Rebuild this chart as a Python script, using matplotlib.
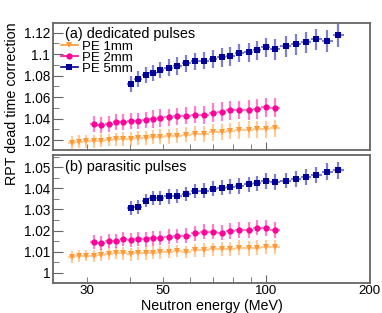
import numpy as np
import matplotlib
matplotlib.use('Agg')
import matplotlib.pyplot as plt
from matplotlib.lines import Line2D
from matplotlib.ticker import MultipleLocator, FuncFormatter

plt.rcParams['font.family'] = ['Liberation Sans', 'DejaVu Sans']

# bin centres (MeV)
energy_1mm = [27.0, 28.4, 29.8, 31.3, 32.9, 34.7, 36.4, 38.2, 40.2, 42.2, 44.4, 46.6, 49.0,
              51.8, 55.0, 58.3, 62.0, 65.9, 69.8, 74.2, 78.6, 83.4, 88.8, 93.9, 99.6, 106.0]
energy_2mm = [31.3, 32.9, 34.7, 36.4, 38.2, 40.2, 42.2, 44.4, 46.6, 49.0, 51.8, 55.0,
              58.3, 62.0, 65.9, 69.8, 74.2, 78.6, 83.4, 88.8, 93.9, 99.6, 106.0]
energy_5mm = [40.2, 42.2, 44.4, 46.6, 49.0, 51.8, 55.0, 58.3, 62.0, 65.9, 69.8, 74.2,
              78.6, 83.4, 88.8, 93.9, 99.6, 106.0, 114.2, 122.1, 130.9, 140.0, 150.3, 162.4]

# (a) dedicated pulses
ded_1mm = [1.0175, 1.0185, 1.019, 1.019, 1.0195, 1.020, 1.0205, 1.021, 1.0205, 1.0215, 1.022, 1.0225,
           1.023, 1.0235, 1.024, 1.025, 1.026, 1.026, 1.027, 1.0275, 1.028, 1.029, 1.0295, 1.030, 1.030, 1.031]
ded_2mm = [1.035, 1.034, 1.035, 1.0365, 1.037, 1.0378, 1.038, 1.0387, 1.0395, 1.0405, 1.041, 1.042,
           1.0425, 1.0435, 1.0435, 1.0455, 1.0465, 1.0475, 1.048, 1.048, 1.049, 1.0505, 1.0502]
ded_5mm = [1.072, 1.077, 1.0805, 1.082, 1.085, 1.0875, 1.089, 1.0915, 1.0935, 1.0938, 1.0957, 1.0969,
           1.0978, 1.101, 1.1016, 1.1035, 1.1063, 1.1044, 1.1072, 1.1091, 1.111, 1.1138, 1.1123, 1.118]
ded_1mm_err = [0.006, 0.006, 0.006, 0.006, 0.006, 0.006, 0.006, 0.0065, 0.0065, 0.0065, 0.0065, 0.0065, 0.007,
               0.007, 0.007, 0.007, 0.007, 0.0075, 0.0075, 0.0075, 0.0075, 0.008, 0.008, 0.008, 0.008, 0.008]
ded_2mm_err = [0.0075, 0.0075, 0.0075, 0.0075, 0.0075, 0.0075, 0.0075, 0.0075, 0.008, 0.008, 0.008, 0.008,
               0.008, 0.008, 0.0085, 0.0085, 0.0085, 0.0085, 0.0085, 0.009, 0.009, 0.009, 0.009]
ded_5mm_err = [0.0075, 0.0075, 0.0075, 0.0075, 0.0075, 0.008, 0.008, 0.008, 0.008, 0.008, 0.0085, 0.0085,
               0.0085, 0.0085, 0.009, 0.009, 0.009, 0.0095, 0.0095, 0.0095, 0.01, 0.01, 0.01, 0.011]

# (b) parasitic pulses
par_1mm = [1.0073, 1.0079, 1.0082, 1.0081, 1.0084, 1.0089, 1.0092, 1.0092, 1.0087, 1.0092, 1.0092, 1.0095,
           1.0097, 1.0100, 1.0103, 1.0098, 1.0106, 1.0108, 1.0111, 1.0112, 1.0112, 1.0119, 1.0116, 1.0119,
           1.0123, 1.0123]
par_2mm = [1.0144, 1.0139, 1.0152, 1.0152, 1.0158, 1.0155, 1.0158, 1.0158, 1.0163, 1.0166, 1.0171, 1.0174,
           1.0176, 1.0187, 1.0195, 1.0195, 1.019, 1.0198, 1.0203, 1.0203, 1.0213, 1.0211, 1.0203]
par_5mm = [1.0305, 1.0313, 1.0342, 1.0353, 1.0353, 1.0361, 1.0364, 1.0373, 1.0388, 1.0389, 1.0397, 1.0403,
           1.0408, 1.0411, 1.0419, 1.0424, 1.0435, 1.0430, 1.0436, 1.0443, 1.0455, 1.0463, 1.0479, 1.0484]
par_1mm_err = [0.0028, 0.0028, 0.0028, 0.0028, 0.0028, 0.0028, 0.0028, 0.003, 0.003, 0.003, 0.003, 0.003, 0.003,
               0.003, 0.003, 0.003, 0.0032, 0.0032, 0.0032, 0.0032, 0.0032, 0.0034, 0.0034, 0.0034, 0.0034, 0.0034]
par_2mm_err = [0.0033, 0.0033, 0.0033, 0.0033, 0.0033, 0.0033, 0.0033, 0.0034, 0.0034, 0.0034, 0.0034, 0.0034,
               0.0035, 0.0035, 0.0035, 0.0035, 0.0035, 0.0036, 0.0036, 0.0036, 0.0036, 0.0037, 0.0037]
par_5mm_err = [0.0033, 0.0033, 0.0033, 0.0033, 0.0033, 0.0034, 0.0034, 0.0034, 0.0034, 0.0035, 0.0035, 0.0035,
               0.0035, 0.0036, 0.0036, 0.0036, 0.0037, 0.0037, 0.0037, 0.0038, 0.0038, 0.0039, 0.004, 0.004]

labels = ['PE 1mm', 'PE 2mm', 'PE 5mm']
colors = ['#ff9933', '#ff0099', '#000099']
markers = ['v', 'o', 's']
frame_col = '#666666'


def half_widths(e):
    # bin edges taken half way (in log) between neighbouring centres
    le = np.log(np.asarray(e))
    mid = (le[1:] + le[:-1]) / 2
    lo = np.r_[2 * le[0] - mid[0], mid]
    hi = np.r_[mid, 2 * le[-1] - mid[-1]]
    e = np.exp(le)
    return [e - np.exp(lo), np.exp(hi) - e]


def fmt_y(v, p):
    return ('%.3f' % v).rstrip('0').rstrip('.')


def style_axes(ax, ylim, ymaj, ymin):
    ax.set_xscale('log')
    ax.set_xlim(23.8, 201)
    ax.set_ylim(*ylim)
    ax.yaxis.set_major_locator(MultipleLocator(ymaj))
    ax.yaxis.set_minor_locator(MultipleLocator(ymin))
    ax.yaxis.set_major_formatter(FuncFormatter(fmt_y))
    ax.set_xticks([100], ['100'])
    ax.set_xticks([30, 40, 50, 60, 70, 80, 90, 200], ['30', '', '50', '', '', '', '', '200'], minor=True)
    ax.tick_params(which='both', direction='in', color=frame_col, labelsize=9.8, top=False, right=False)
    ax.tick_params(axis='y', which='major', length=7, pad=2)
    ax.tick_params(axis='y', which='minor', length=4)
    ax.tick_params(axis='x', which='major', length=6, pad=1.5, labelsize=9.6)
    ax.tick_params(axis='x', which='minor', length=4, pad=1.5, labelsize=9.6)
    for s in ax.spines.values():
        s.set_color(frame_col)
        s.set_linewidth(1.3)


def draw(ax, energies, values, errors):
    for e, v, err, c, m in zip(energies, values, errors, colors, markers):
        ax.errorbar(e, v, yerr=err, xerr=half_widths(e), fmt='none', ecolor=c,
                    alpha=0.5, elinewidth=1.6, capsize=0)
        ax.plot(e, v, ls='none', marker=m, color=c, ms=4.5, mew=0)


fig = plt.figure(figsize=(3.82, 3.13), dpi=100)
ax1 = fig.add_axes([0.1387, 0.5208, 0.8298, 0.4058])
ax2 = fig.add_axes([0.1387, 0.0958, 0.8298, 0.4089])

energies = [energy_1mm, energy_2mm, energy_5mm]
draw(ax1, energies, [ded_1mm, ded_2mm, ded_5mm], [ded_1mm_err, ded_2mm_err, ded_5mm_err])
draw(ax2, energies, [par_1mm, par_2mm, par_5mm], [par_1mm_err, par_2mm_err, par_5mm_err])

style_axes(ax1, (1.0107, 1.129), 0.02, 0.01)
style_axes(ax2, (0.9952, 1.0557), 0.01, 0.005)
ax1.tick_params(axis='x', which='both', labelbottom=False)

ax1.text(0.038, 0.915, '(a) dedicated pulses', transform=ax1.transAxes, fontsize=10.4, va='center', ha='left')
ax2.text(0.038, 0.905, '(b) parasitic pulses', transform=ax2.transAxes, fontsize=10.4, va='center', ha='left')

handles = [Line2D([], [], color=c, marker=m, ms=4.5, mew=0, lw=1.2) for c, m in zip(colors, markers)]
ax1.legend(handles, labels, loc='upper left', bbox_to_anchor=(0.025, 0.86), frameon=False, fontsize=9.5,
           borderaxespad=0, borderpad=0, labelspacing=-0.1, handlelength=1.3, handletextpad=0.3)

fig.text(211.5 / 382, 0.0, 'Neutron energy (MeV)', fontsize=10.3, ha='center', va='bottom')
fig.text(12 / 382, 1 - 22 / 313, 'RPT dead time correction', rotation=90, fontsize=10.3,
         ha='center', va='top')

fig.savefig('out.png', dpi=100)
